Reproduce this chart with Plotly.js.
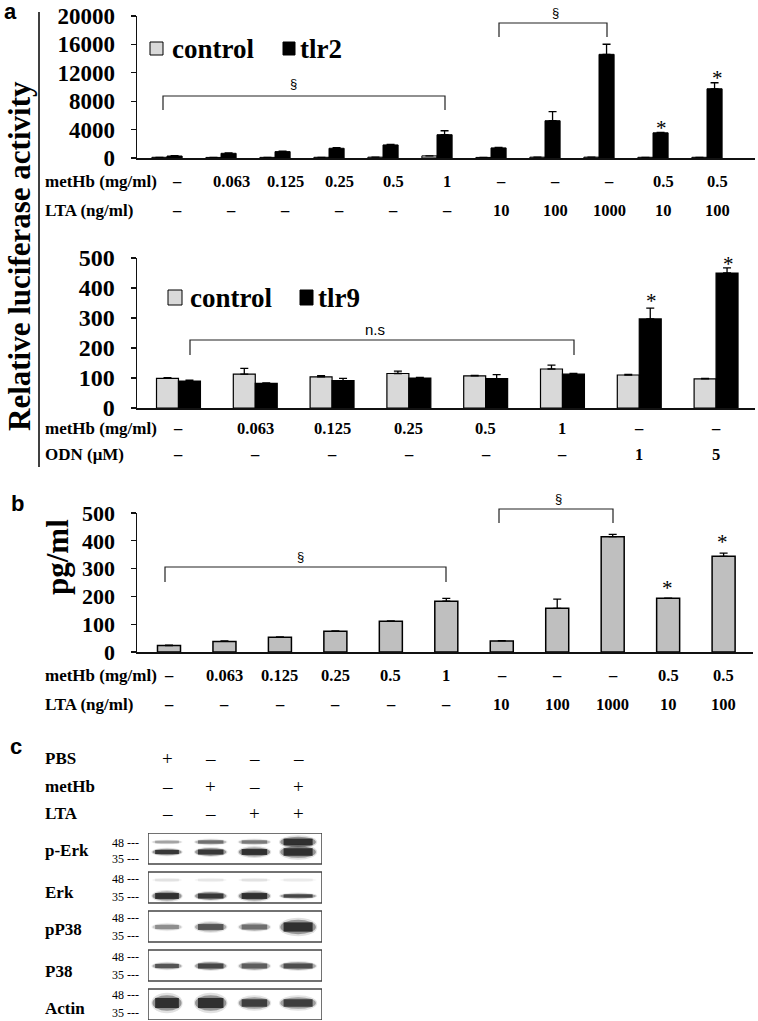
<!DOCTYPE html>
<html>
<head>
<meta charset="utf-8">
<script src="https://cdn.plot.ly/plotly-3.0.1.min.js"></script>
<style>html,body{margin:0;padding:0;background:#fff;}#chart{width:758px;height:1021px;}</style>
</head>
<body>
<div id="chart"></div>
<script>
// ---------- DATA ----------
// Panel a (top): TLR2 luciferase
const seriesA1 = ['control', 'tlr2'];
const metHbA1 = ['–','0.063','0.125','0.25','0.5','1','–','–','–','0.5','0.5'];
const ltaA1   = ['–','–','–','–','–','–','10','100','1000','10','100'];
const controlA1    = [100, 80, 90, 100, 120, 300, 80, 120, 120, 100, 100];
const controlA1Err = [0, 0, 0, 0, 0, 0, 0, 0, 0, 0, 0];
const tlr2    = [280, 660, 900, 1370, 1840, 3280, 1420, 5250, 14600, 3550, 9750];
const tlr2Err = [40, 60, 60, 80, 60, 560, 80, 1270, 1420, 60, 850];

// Panel a (bottom): TLR9 luciferase
const seriesA2 = ['control', 'tlr9'];
const metHbA2 = ['–','0.063','0.125','0.25','0.5','1','–','–'];
const odnA2   = ['–','–','–','–','–','–','1','5'];
const controlA2    = [99, 113, 104, 115, 107, 130, 110, 97];
const controlA2Err = [2, 19, 4, 8, 2, 13, 2, 2];
const tlr9    = [90, 82, 91, 100, 98, 113, 297, 450];
const tlr9Err = [3, 2, 8, 2, 13, 2, 36, 17];

// Panel b: cytokine pg/ml
const metHbB = ['–','0.063','0.125','0.25','0.5','1','–','–','–','0.5','0.5'];
const ltaB   = ['–','–','–','–','–','–','10','100','1000','10','100'];
const pgml    = [23, 38, 53, 75, 111, 183, 40, 157, 415, 193, 344];
const pgmlErr = [2, 2, 1, 1, 1, 10, 1, 33, 8, 1, 12];

// Panel c: western blot
const pbsC   = ['+','–','–','–'];
const metHbC = ['–','+','–','+'];
const ltaC   = ['–','–','+','+'];
const blotRows = ['p-Erk','Erk','pP38','P38','Actin'];
const pErkUpper = [0.35, 0.6, 0.55, 1.0];
const pErkLower = [0.95, 0.95, 1.0, 1.0];
const erkUpper  = [0.1, 0.08, 0.1, 0.07];
const erkLower  = [1.0, 0.95, 1.0, 0.85];
const pP38      = [0.45, 0.75, 0.6, 1.0];
const p38       = [0.75, 0.85, 0.7, 0.8];
const actin     = [1.0, 1.0, 0.9, 0.9];

// ---------- LAYOUT HELPERS ----------
const W = 758, H = 1021;
const X = px => px / W;
const Y = py => 1 - py / H;
const SERIF = '"Liberation Serif", "Times New Roman", serif';
const SANS = '"Liberation Sans", Arial, sans-serif';
const idx = arr => arr.map((_, i) => i);
const zeros = arr => arr.map(() => 0);

const errStyle = (arr) => ({type:'data', symmetric:false, array:arr, arrayminus:zeros(arr),
  color:'#000', thickness:1.3, width:4, visible:true});

const LIGHT = '#d9d9d9', BLACK = '#000', GREY = '#bfbfbf';

const traces = [
  {type:'bar', name:seriesA1[0], x:idx(controlA1), y:controlA1, xaxis:'x', yaxis:'y',
   offset:-0.28, width:0.28, marker:{color:LIGHT, line:{color:'#000', width:1}}, error_y:errStyle(controlA1Err)},
  {type:'bar', name:seriesA1[1], x:idx(tlr2), y:tlr2, xaxis:'x', yaxis:'y',
   offset:0, width:0.28, marker:{color:BLACK, line:{color:'#000', width:1}}, error_y:errStyle(tlr2Err)},
  {type:'bar', name:seriesA2[0], x:idx(controlA2), y:controlA2, xaxis:'x2', yaxis:'y2',
   offset:-0.286, width:0.286, marker:{color:LIGHT, line:{color:'#000', width:1.2}}, error_y:errStyle(controlA2Err)},
  {type:'bar', name:seriesA2[1], x:idx(tlr9), y:tlr9, xaxis:'x2', yaxis:'y2',
   offset:0, width:0.286, marker:{color:BLACK, line:{color:'#000', width:1.2}}, error_y:errStyle(tlr9Err)},
  {type:'bar', name:'pg/ml', x:idx(pgml), y:pgml, xaxis:'x3', yaxis:'y3',
   offset:-0.2075, width:0.415, marker:{color:GREY, line:{color:'#000', width:1.5}}, error_y:errStyle(pgmlErr)},
  {type:'scatter', mode:'markers', x:idx(pbsC).map(i=>i+1), y:zeros(pbsC), xaxis:'x4', yaxis:'y4',
   marker:{opacity:0}, hoverinfo:'skip', showlegend:false}
];

const yTick = (size) => ({family:SERIF, size:size, color:'#000', weight:'bold'});
const xAx = (d0, d1, r, anchor) => ({domain:[X(d0), X(d1)], range:r, anchor:anchor,
  showline:true, linecolor:'#111', linewidth:1.5, showticklabels:false, ticks:'',
  showgrid:false, zeroline:false, fixedrange:true});
const yAx = (p0, p1, r, dt, size, anchor) => ({domain:[Y(p0), Y(p1)], range:r, dtick:dt, tick0:0,
  anchor:anchor, showline:true, linecolor:'#111', linewidth:1.5, ticks:'outside', ticklen:5,
  tickcolor:'#111', tickwidth:1.2, tickfont:yTick(size), tickformat:'d', ticklabelstandoff:11,
  showgrid:false, zeroline:false, fixedrange:true});

const annotations = [];
const shapes = [];
const ann = (o) => annotations.push(Object.assign({showarrow:false, xanchor:'center', yanchor:'middle'}, o));

// panel letters
ann({text:'<b>a</b>', x:X(10), y:Y(11), xref:'paper', yref:'paper', font:{family:SANS, size:22, color:'#000'}});
ann({text:'<b>b</b>', x:X(17), y:Y(503), xref:'paper', yref:'paper', font:{family:SANS, size:22, color:'#000'}});
ann({text:'<b>c</b>', x:X(16), y:Y(746), xref:'paper', yref:'paper', font:{family:SANS, size:22, color:'#000'}});

// y titles
ann({text:'<b>Relative luciferase activity</b>', x:X(19), y:Y(256), xref:'paper', yref:'paper', textangle:-90,
     font:{family:SERIF, size:31, color:'#000'}});
ann({text:'<b>pg/ml</b>', x:X(57), y:Y(557), xref:'paper', yref:'paper', textangle:-90,
     font:{family:SERIF, size:31, color:'#000'}});
shapes.push({type:'line', xref:'paper', yref:'paper', x0:X(39), x1:X(39), y0:Y(12), y1:Y(467), line:{color:'#000', width:1.5}});

// row labels
function rowName(text, py) {
  ann({text:'<b>'+text+'</b>', x:X(43), y:Y(py), xref:'paper', yref:'paper', xanchor:'left',
       font:{family:SERIF, size:17, color:'#000'}});
}
function rowVals(vals, xref, py, shift) {
  vals.forEach((v, i) => ann({text:'<b>'+v+'</b>', x:i, y:Y(py), xref:xref, yref:'paper', xshift:shift,
       font:{family:SERIF, size:16.5, color:'#000'}}));
}
rowName('metHb (mg/ml)', 181); rowVals(metHbA1, 'x', 181, 10);
rowName('LTA (ng/ml)', 210);   rowVals(ltaA1, 'x', 210, 10);
rowName('metHb (mg/ml)', 428); rowVals(metHbA2, 'x2', 428, 0);
rowName('ODN (μM)', 455);      rowVals(odnA2, 'x2', 455, 0);
rowName('metHb (mg/ml)', 675); rowVals(metHbB, 'x3', 675, 0);
rowName('LTA (ng/ml)', 704);   rowVals(ltaB, 'x3', 704, 0);

// legends
function legend(items, colors, sq, tx, pyTop, pyBot, pyText) {
  items.forEach((name, i) => {
    shapes.push({type:'rect', xref:'paper', yref:'paper', x0:X(sq[i][0]), x1:X(sq[i][1]), y0:Y(pyBot), y1:Y(pyTop),
      fillcolor:colors[i], line:{color:'#000', width:1}});
    ann({text:'<b>'+name+'</b>', x:X(tx[i]), y:Y(pyText), xref:'paper', yref:'paper', xanchor:'left',
      font:{family:SERIF, size:27, color:'#000'}});
  });
}
legend(seriesA1, [LIGHT, BLACK], [[150,163],[283,295]], [170, 298], 42, 55, 49);
legend(seriesA2, [LIGHT, BLACK], [[168,182],[300,313]], [188, 316], 290, 305, 298);

// brackets
function bracket(x1, x2, yTop, yEnd) {
  shapes.push({type:'path', xref:'paper', yref:'paper',
    path:`M ${X(x1)} ${Y(yEnd)} L ${X(x1)} ${Y(yTop)} L ${X(x2)} ${Y(yTop)} L ${X(x2)} ${Y(yEnd)}`,
    line:{color:'#222', width:1.2}});
}
bracket(163, 445, 96, 110);
bracket(499, 607, 23, 37);
bracket(190, 574, 340, 355);
bracket(165, 446, 567, 582);
bracket(499, 613, 509, 523);

const sym = (t, px, py, size, fam) => ann({text:t, x:X(px), y:Y(py), xref:'paper', yref:'paper',
  font:{family:fam, size:size, color:'#000'}});
sym('§', 293, 83, 13, SANS); sym('§', 555, 12, 13, SANS);
sym('§', 300, 556, 13, SANS); sym('§', 558, 498, 13, SANS);
sym('n.s', 375, 330, 15, SANS);
[[661,128],[717,78],[651,301],[728,264],[667,588],[722,542]].forEach(p => sym('*', p[0], p[1], 21, SERIF));

// panel c treatment rows
function signRow(name, vals, py) {
  ann({text:'<b>'+name+'</b>', x:X(43), y:Y(py), xref:'paper', yref:'paper', xanchor:'left',
       font:{family:SERIF, size:17, color:'#000'}});
  vals.forEach((v, i) => ann({text:v, x:i+1, y:Y(py), xref:'x4', yref:'paper',
       font:{family:SERIF, size:19, color:'#000'}}));
}
signRow('PBS', pbsC, 758);
signRow('metHb', metHbC, 786);
signRow('LTA', ltaC, 813);

// blot rows
const ROW = 39; // px per blot row
const laneW = [27, 29, 29, 33];
function band(row, yOffPx, intens, thick) {
  intens.forEach((a, i) => {
    const cx = i + 1, cy = row + yOffPx / ROW;
    const w = laneW[i] / 43.7, h = thick[i] / ROW;
    const c = (al) => `rgba(10,10,10,${al.toFixed(3)})`;
    shapes.push({type:'circle', xref:'x4', yref:'y4', x0:cx-w*0.58, x1:cx+w*0.58, y0:cy-h*0.85, y1:cy+h*0.85,
      fillcolor:c(a*0.12), line:{width:0}, layer:'above'});
    shapes.push({type:'circle', xref:'x4', yref:'y4', x0:cx-w*0.54, x1:cx+w*0.54, y0:cy-h*0.65, y1:cy+h*0.65,
      fillcolor:c(a*0.35), line:{width:0}, layer:'above'});
    shapes.push({type:'rect', xref:'x4', yref:'y4', x0:cx-w*0.44, x1:cx+w*0.44, y0:cy-h*0.42, y1:cy+h*0.42,
      fillcolor:c(a*0.72), line:{width:0}, layer:'above'});
  });
}
band(0, 9, pErkUpper, [3, 4, 4, 8]);
band(0, 19, pErkLower, [5, 6, 7, 9]);
band(1, 8, erkUpper, [3, 3, 3, 3]);
band(1, 24, erkLower, [7, 6, 7, 4]);
band(2, 16, pP38, [5, 7, 6, 11]);
band(3, 16, p38, [5, 6, 6, 6]);
band(4, 14, actin, [12, 12, 9, 9]);

const labelOff = [17, 20, 18, 21, 19];
const m48 = [10, 7, 7, 7, 6];
const m35 = [26, 25, 25, 25, 24];
blotRows.forEach((name, r) => {
  shapes.push({type:'rect', xref:'x4', yref:'y4', x0:0.565, x1:4.547, y0:r, y1:r+31/ROW,
    fillcolor:'rgba(0,0,0,0)', line:{color:'#444', width:1.5}, layer:'above'});
  const top = 833 + r*ROW;
  ann({text:'<b>'+name+'</b>', x:X(43), y:Y(top+labelOff[r]), xref:'paper', yref:'paper', xanchor:'left',
       font:{family:SERIF, size:17, color:'#000'}});
  ann({text:'48 ---', x:X(110), y:Y(top+m48[r]), xref:'paper', yref:'paper', xanchor:'left',
       font:{family:SERIF, size:12, color:'#000'}});
  ann({text:'35 ---', x:X(110), y:Y(top+m35[r]), xref:'paper', yref:'paper', xanchor:'left',
       font:{family:SERIF, size:12, color:'#000'}});
});

const layout = {
  width:W, height:H, margin:{l:0, r:0, t:0, b:0}, paper_bgcolor:'#fff', plot_bgcolor:'rgba(0,0,0,0)',
  showlegend:false, barmode:'overlay',
  xaxis: xAx(137, 755, [-0.556, 10.889], 'y'),
  yaxis: yAx(158, 16, [0, 20000], 4000, 23, 'x'),
  xaxis2: xAx(137, 755, [-0.54, 7.507], 'y2'),
  yaxis2: yAx(408, 258, [0, 500], 100, 24, 'x2'),
  xaxis3: xAx(137, 753, [-0.577, 10.53], 'y3'),
  yaxis3: yAx(652, 513, [0, 500], 100, 22, 'x3'),
  xaxis4: {domain:[X(148), X(322)], range:[0.565, 4.547], anchor:'y4', visible:false, fixedrange:true},
  yaxis4: {domain:[Y(1020), Y(833)], range:[4.795, 0], anchor:'x4', visible:false, fixedrange:true},
  annotations: annotations,
  shapes: shapes
};

Plotly.newPlot('chart', traces, layout, {staticPlot:true, displayModeBar:false});
</script>
</body>
</html>
